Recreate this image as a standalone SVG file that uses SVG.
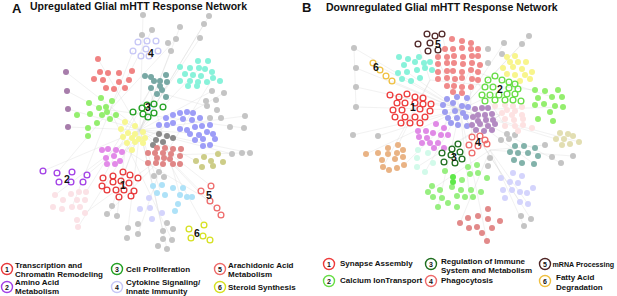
<svg xmlns="http://www.w3.org/2000/svg" width="617" height="296" viewBox="0 0 617 296">
<style>
text{font-family:"Liberation Sans",Arial,sans-serif;font-weight:bold;fill:#111}
.t{font-size:10.5px}
.L{font-size:13px}
.lg{font-size:8px}
.n{font-size:10.5px;text-anchor:middle}
.ln{font-size:7px;text-anchor:middle}
.o circle{fill:none;stroke-width:1.3}
.edges line{stroke:#d4d4d4;stroke-width:0.5;opacity:0.6}
.gr{fill:#c4c4c4}
</style>
<rect width="617" height="296" fill="#fff"/>
<g class="edges">
<line x1="140" y1="130" x2="143" y2="15"/><line x1="140" y1="130" x2="209" y2="16"/><line x1="140" y1="130" x2="180" y2="27"/><line x1="140" y1="130" x2="204" y2="24"/><line x1="140" y1="130" x2="171" y2="51"/><line x1="140" y1="130" x2="98" y2="59"/><line x1="140" y1="130" x2="66" y2="72"/><line x1="140" y1="130" x2="67" y2="91"/><line x1="140" y1="130" x2="68" y2="109"/><line x1="140" y1="130" x2="68" y2="127"/><line x1="140" y1="130" x2="212" y2="91"/><line x1="140" y1="130" x2="245" y2="116"/><line x1="140" y1="130" x2="250" y2="153"/><line x1="140" y1="130" x2="232" y2="154"/><line x1="140" y1="130" x2="43" y2="171"/><line x1="140" y1="130" x2="87" y2="175"/><line x1="140" y1="130" x2="55" y2="195"/><line x1="140" y1="130" x2="78" y2="227"/><line x1="140" y1="130" x2="112" y2="206"/><line x1="140" y1="130" x2="128" y2="228"/><line x1="140" y1="130" x2="163" y2="231"/><line x1="140" y1="130" x2="167" y2="249"/><line x1="140" y1="130" x2="221" y2="215"/><line x1="140" y1="130" x2="211" y2="186"/><line x1="140" y1="130" x2="196" y2="161"/><line x1="140" y1="130" x2="160" y2="85"/><line x1="140" y1="130" x2="200" y2="68"/><line x1="140" y1="130" x2="190" y2="133"/><line x1="140" y1="130" x2="120" y2="185"/><line x1="140" y1="130" x2="160" y2="190"/>
<line x1="165" y1="155" x2="204" y2="225"/><line x1="165" y1="155" x2="217" y2="208"/><line x1="165" y1="155" x2="242" y2="153"/><line x1="165" y1="155" x2="213" y2="78"/><line x1="165" y1="155" x2="138" y2="234"/><line x1="165" y1="155" x2="85" y2="213"/><line x1="165" y1="155" x2="107" y2="214"/><line x1="110" y1="110" x2="152" y2="30"/><line x1="110" y1="110" x2="133" y2="51"/><line x1="110" y1="110" x2="57" y2="173"/><line x1="110" y1="110" x2="244" y2="128"/><line x1="110" y1="110" x2="176" y2="39"/><line x1="110" y1="110" x2="72" y2="207"/><line x1="110" y1="110" x2="172" y2="240"/>
<line x1="150" y1="90" x2="207" y2="106"/><line x1="150" y1="90" x2="103" y2="178"/><line x1="150" y1="90" x2="180" y2="195"/><line x1="150" y1="90" x2="86" y2="192"/><line x1="125" y1="150" x2="200" y2="38"/><line x1="125" y1="150" x2="224" y2="93"/><line x1="125" y1="150" x2="210" y2="201"/><line x1="125" y1="150" x2="117" y2="216"/>
<line x1="460" y1="110" x2="354" y2="48"/><line x1="460" y1="110" x2="356" y2="68"/><line x1="460" y1="110" x2="356" y2="87"/><line x1="460" y1="110" x2="356" y2="107"/><line x1="460" y1="110" x2="427" y2="34"/><line x1="460" y1="110" x2="442" y2="34"/><line x1="460" y1="110" x2="373" y2="63"/><line x1="460" y1="110" x2="392" y2="81"/><line x1="460" y1="110" x2="529" y2="36"/><line x1="460" y1="110" x2="504" y2="43"/><line x1="460" y1="110" x2="520" y2="81"/><line x1="460" y1="110" x2="563" y2="107"/><line x1="460" y1="110" x2="579" y2="142"/><line x1="460" y1="110" x2="561" y2="163"/><line x1="460" y1="110" x2="534" y2="164"/><line x1="460" y1="110" x2="366" y2="154"/><line x1="460" y1="110" x2="404" y2="165"/><line x1="460" y1="110" x2="425" y2="172"/><line x1="460" y1="110" x2="470" y2="200"/><line x1="460" y1="110" x2="520" y2="202"/><line x1="460" y1="110" x2="531" y2="219"/><line x1="460" y1="110" x2="487" y2="241"/><line x1="460" y1="110" x2="438" y2="207"/><line x1="460" y1="110" x2="378" y2="136"/><line x1="460" y1="110" x2="353" y2="135"/><line x1="460" y1="110" x2="522" y2="44"/><line x1="460" y1="110" x2="407" y2="72"/><line x1="460" y1="110" x2="556" y2="139"/>
<line x1="490" y1="150" x2="528" y2="204"/><line x1="490" y1="150" x2="524" y2="226"/><line x1="490" y1="150" x2="460" y2="223"/><line x1="490" y1="150" x2="573" y2="156"/><line x1="490" y1="150" x2="545" y2="145"/><line x1="490" y1="150" x2="428" y2="192"/><line x1="430" y1="80" x2="383" y2="167"/><line x1="430" y1="80" x2="398" y2="145"/><line x1="430" y1="80" x2="535" y2="90"/><line x1="430" y1="80" x2="418" y2="44"/>
<line x1="470" y1="70" x2="505" y2="126"/><line x1="470" y1="70" x2="434" y2="148"/><line x1="470" y1="70" x2="552" y2="97"/><line x1="470" y1="70" x2="472" y2="153"/><line x1="500" y1="115" x2="442" y2="153"/><line x1="500" y1="115" x2="390" y2="95"/><line x1="500" y1="115" x2="417" y2="167"/>
<line x1="354" y1="48" x2="356" y2="107"/>
</g>
<g id="A-title"><text class="L" x="12" y="13">A</text><text class="t" x="30" y="10">Upregulated Glial mHTT Response Network</text></g>
<g id="B-title"><text class="L" x="302" y="12">B</text><text class="t" x="326" y="10.5">Downregulated Glial mHTT Response Network</text></g>
<g id="A-gray" class="gr">
<circle cx="143" cy="15" r="3"/><circle cx="209" cy="16" r="3"/><circle cx="152" cy="30" r="3"/><circle cx="180" cy="27" r="3"/><circle cx="204" cy="24" r="3"/><circle cx="142" cy="35" r="3"/><circle cx="168" cy="43" r="3"/><circle cx="176" cy="39" r="3"/><circle cx="200" cy="38" r="3"/><circle cx="171" cy="51" r="3"/><circle cx="212" cy="91" r="3"/><circle cx="224" cy="93" r="3"/><circle cx="206" cy="101" r="3"/><circle cx="216" cy="100" r="3"/><circle cx="207" cy="106" r="3"/><circle cx="217" cy="110" r="3"/><circle cx="245" cy="116" r="3"/><circle cx="210" cy="118" r="3"/><circle cx="221" cy="118" r="3"/><circle cx="230" cy="127" r="3"/><circle cx="244" cy="128" r="3"/><circle cx="232" cy="154" r="3"/><circle cx="242" cy="153" r="3"/><circle cx="250" cy="153" r="3"/><circle cx="159" cy="172" r="3"/><circle cx="154" cy="176" r="3"/><circle cx="164" cy="177" r="3"/><circle cx="112" cy="206" r="3"/><circle cx="107" cy="214" r="3"/><circle cx="117" cy="216" r="3"/><circle cx="128" cy="228" r="3"/><circle cx="138" cy="234" r="3"/><circle cx="127" cy="238" r="3"/><circle cx="163" cy="231" r="3"/><circle cx="173" cy="229" r="3"/><circle cx="172" cy="240" r="3"/><circle cx="163" cy="239" r="3"/><circle cx="158" cy="246" r="3"/><circle cx="167" cy="249" r="3"/><circle cx="138" cy="224" r="3"/><circle cx="167" cy="223" r="3"/>
</g>
<g id="A-cluster4" class="o" stroke="#c6c6f6">
<circle cx="138" cy="42" r="2.9"/><circle cx="147" cy="41" r="2.9"/><circle cx="156" cy="41" r="2.9"/><circle cx="133" cy="51" r="2.9"/><circle cx="146" cy="49" r="2.9"/><circle cx="158" cy="51" r="2.9"/><circle cx="141" cy="56" r="2.9"/><circle cx="149" cy="56" r="2.9"/>
</g>
<g id="A-salmon" fill="#f08383">
<circle cx="98" cy="59" r="3"/><circle cx="100" cy="72" r="3"/><circle cx="108" cy="73" r="3"/><circle cx="119" cy="73" r="3"/><circle cx="132" cy="71" r="3"/><circle cx="94" cy="79" r="3"/><circle cx="103" cy="80" r="3"/><circle cx="119" cy="82" r="3"/><circle cx="129" cy="80" r="3"/><circle cx="106" cy="88" r="3"/><circle cx="114" cy="89" r="3"/><circle cx="125" cy="88" r="3"/>
</g>
<g id="A-purple" fill="#a77dab">
<circle cx="66" cy="72" r="3"/><circle cx="67" cy="91" r="3"/><circle cx="68" cy="109" r="3"/><circle cx="68" cy="127" r="3"/>
</g>
<g id="A-cadet" fill="#78a8a4">
<circle cx="145" cy="76" r="3"/><circle cx="151" cy="77" r="3"/><circle cx="166" cy="75" r="3"/><circle cx="154" cy="81" r="3"/><circle cx="160" cy="81" r="3"/><circle cx="167" cy="82" r="3"/><circle cx="160" cy="86" r="3"/><circle cx="151" cy="88" r="3"/><circle cx="162" cy="90" r="3"/><circle cx="157" cy="94" r="3"/><circle cx="166" cy="97" r="3"/>
</g>
<g id="A-aqua" fill="#88f2da">
<circle cx="180" cy="67" r="3"/><circle cx="190" cy="68" r="3"/><circle cx="198" cy="61" r="3"/><circle cx="208" cy="61" r="3"/><circle cx="199" cy="68" r="3"/><circle cx="205" cy="69" r="3"/><circle cx="212" cy="72" r="3"/><circle cx="185" cy="74" r="3"/><circle cx="193" cy="75" r="3"/><circle cx="201" cy="76" r="3"/><circle cx="213" cy="78" r="3"/><circle cx="220" cy="81" r="3"/><circle cx="180" cy="81" r="3"/><circle cx="190" cy="81" r="3"/><circle cx="198" cy="82" r="3"/><circle cx="207" cy="82" r="3"/><circle cx="188" cy="86" r="3"/><circle cx="197" cy="86" r="3"/>
</g>
<g id="A-lightgreen" fill="#94ee6e">
<circle cx="101" cy="98" r="3"/><circle cx="112" cy="101" r="3"/><circle cx="89" cy="103" r="3"/><circle cx="99" cy="108" r="3"/><circle cx="106" cy="107" r="3"/><circle cx="107" cy="112" r="3"/><circle cx="116" cy="115" r="3"/><circle cx="77" cy="115" r="3"/><circle cx="90" cy="114" r="3"/><circle cx="102" cy="115" r="3"/><circle cx="110" cy="119" r="3"/><circle cx="97" cy="123" r="3"/><circle cx="88" cy="128" r="3"/><circle cx="88" cy="136" r="3"/>
</g>
<g id="A-cluster3" class="o" stroke="#22a022">
<circle cx="133" cy="112" r="2.9"/><circle cx="142" cy="108" r="2.9"/><circle cx="147" cy="105" r="2.9"/><circle cx="154" cy="104" r="2.9"/><circle cx="163" cy="107" r="2.9"/><circle cx="143" cy="114" r="2.9"/><circle cx="154" cy="113" r="2.9"/><circle cx="148" cy="117" r="2.9"/>
</g>
<g id="A-periwinkle" fill="#9d9df7">
<circle cx="166" cy="118" r="3"/><circle cx="173" cy="115" r="3"/><circle cx="180" cy="113" r="3"/><circle cx="187" cy="112" r="3"/><circle cx="193" cy="113" r="3"/><circle cx="173" cy="123" r="3"/><circle cx="183" cy="119" r="3"/><circle cx="192" cy="120" r="3"/><circle cx="200" cy="118" r="3"/><circle cx="159" cy="125" r="3"/><circle cx="167" cy="125" r="3"/><circle cx="180" cy="129" r="3"/><circle cx="187" cy="130" r="3"/><circle cx="195" cy="127" r="3"/><circle cx="202" cy="126" r="3"/><circle cx="210" cy="125" r="3"/><circle cx="190" cy="134" r="3"/><circle cx="199" cy="135" r="3"/><circle cx="207" cy="132" r="3"/><circle cx="213" cy="134" r="3"/><circle cx="195" cy="140" r="3"/><circle cx="203" cy="139" r="3"/><circle cx="215" cy="139" r="3"/><circle cx="203" cy="146" r="3"/><circle cx="210" cy="145" r="3"/>
</g>
<g id="A-yellow" fill="#f7f791">
<circle cx="125" cy="122" r="3"/><circle cx="135" cy="126" r="3"/><circle cx="121" cy="129" r="3"/><circle cx="128" cy="133" r="3"/><circle cx="135" cy="134" r="3"/><circle cx="143" cy="132" r="3"/><circle cx="123" cy="137" r="3"/><circle cx="132" cy="138" r="3"/><circle cx="139" cy="139" r="3"/><circle cx="145" cy="138" r="3"/><circle cx="127" cy="143" r="3"/><circle cx="135" cy="142" r="3"/><circle cx="143" cy="143" r="3"/><circle cx="132" cy="150" r="3"/>
</g>
<g id="A-darkgray" fill="#8a8a8a">
<circle cx="159" cy="134" r="3"/><circle cx="167" cy="136" r="3"/><circle cx="173" cy="138" r="3"/><circle cx="156" cy="140" r="3"/><circle cx="163" cy="142" r="3"/><circle cx="153" cy="145" r="3"/>
</g>
<g id="A-rosy" fill="#e08686">
<circle cx="157" cy="148" r="3"/><circle cx="165" cy="148" r="3"/><circle cx="173" cy="149" r="3"/><circle cx="181" cy="149" r="3"/><circle cx="148" cy="153" r="3"/><circle cx="155" cy="153" r="3"/><circle cx="163" cy="153" r="3"/><circle cx="171" cy="154" r="3"/><circle cx="180" cy="156" r="3"/><circle cx="157" cy="158" r="3"/><circle cx="164" cy="158" r="3"/><circle cx="170" cy="159" r="3"/><circle cx="148" cy="163" r="3"/><circle cx="156" cy="163" r="3"/><circle cx="163" cy="164" r="3"/><circle cx="173" cy="164" r="3"/><circle cx="180" cy="164" r="3"/>
</g>
<g id="A-orchid" fill="#e28ae8">
<circle cx="102" cy="150" r="3"/><circle cx="108" cy="149" r="3"/><circle cx="116" cy="150" r="3"/><circle cx="122" cy="152" r="3"/><circle cx="106" cy="158" r="3"/><circle cx="114" cy="156" r="3"/><circle cx="120" cy="161" r="3"/><circle cx="107" cy="164" r="3"/><circle cx="115" cy="164" r="3"/>
</g>
<g id="A-khaki" fill="#cdcd88">
<circle cx="196" cy="161" r="3"/><circle cx="204" cy="157" r="3"/><circle cx="211" cy="161" r="3"/><circle cx="218" cy="154" r="3"/><circle cx="223" cy="162" r="3"/><circle cx="202" cy="167" r="3"/><circle cx="213" cy="166" r="3"/>
</g>
<g id="A-cluster2" class="o" stroke="#a23fe6">
<circle cx="43" cy="171" r="2.9"/><circle cx="57" cy="173" r="2.9"/><circle cx="72" cy="172" r="2.9"/><circle cx="87" cy="175" r="2.9"/><circle cx="59" cy="182" r="2.9"/><circle cx="71" cy="182" r="2.9"/><circle cx="83" cy="182" r="2.9"/>
</g>
<g id="A-cluster1" class="o" stroke="#e8383a">
<circle cx="103" cy="178" r="2.9"/><circle cx="113" cy="176" r="2.9"/><circle cx="123" cy="172" r="2.9"/><circle cx="130" cy="175" r="2.9"/><circle cx="138" cy="178" r="2.9"/><circle cx="113" cy="182" r="2.9"/><circle cx="121" cy="181" r="2.9"/><circle cx="129" cy="183" r="2.9"/><circle cx="102" cy="186" r="2.9"/><circle cx="107" cy="190" r="2.9"/><circle cx="116" cy="190" r="2.9"/><circle cx="124" cy="190" r="2.9"/><circle cx="134" cy="191" r="2.9"/><circle cx="119" cy="197" r="2.9"/><circle cx="131" cy="196" r="2.9"/>
</g>
<g id="A-lightblue" fill="#aee2f8">
<circle cx="153" cy="186" r="3"/><circle cx="162" cy="185" r="3"/><circle cx="173" cy="188" r="3"/><circle cx="183" cy="188" r="3"/><circle cx="157" cy="193" r="3"/><circle cx="165" cy="195" r="3"/><circle cx="180" cy="195" r="3"/><circle cx="187" cy="197" r="3"/><circle cx="192" cy="197" r="3"/><circle cx="178" cy="204" r="3"/><circle cx="175" cy="211" r="3"/>
</g>
<g id="A-lavender" fill="#d4d4fc">
<circle cx="149" cy="198" r="3"/><circle cx="140" cy="209" r="3"/><circle cx="150" cy="208" r="3"/><circle cx="152" cy="219" r="3"/><circle cx="162" cy="213" r="3"/>
</g>
<g id="A-cluster5" class="o" stroke="#ee6a6a">
<circle cx="211" cy="186" r="2.9"/><circle cx="201" cy="191" r="2.9"/><circle cx="210" cy="201" r="2.9"/><circle cx="217" cy="208" r="2.9"/><circle cx="221" cy="215" r="2.9"/>
</g>
<g id="A-pink" fill="#fbe2e6">
<circle cx="55" cy="195" r="3"/><circle cx="63" cy="200" r="3"/><circle cx="71" cy="194" r="3"/><circle cx="79" cy="192" r="3"/><circle cx="86" cy="192" r="3"/><circle cx="77" cy="200" r="3"/><circle cx="85" cy="200" r="3"/><circle cx="53" cy="207" r="3"/><circle cx="62" cy="209" r="3"/><circle cx="72" cy="207" r="3"/><circle cx="80" cy="207" r="3"/><circle cx="85" cy="213" r="3"/><circle cx="77" cy="220" r="3"/><circle cx="78" cy="227" r="3"/>
</g>
<g id="A-cluster6" class="o" stroke="#d6e020">
<circle cx="189" cy="229" r="2.9"/><circle cx="204" cy="225" r="2.9"/><circle cx="191" cy="238" r="2.9"/><circle cx="203" cy="236" r="2.9"/><circle cx="210" cy="240" r="2.9"/>
</g>
<g id="A-labels">
<text class="n" x="151" y="57">4</text><text class="n" x="148" y="111">3</text><text class="n" x="67" y="183">2</text><text class="n" x="123" y="189">1</text><text class="n" x="209" y="199">5</text><text class="n" x="197" y="237">6</text>
</g>
<g id="B-gray" class="gr">
<circle cx="354" cy="48" r="3"/><circle cx="356" cy="68" r="3"/><circle cx="356" cy="87" r="3"/><circle cx="356" cy="107" r="3"/><circle cx="353" cy="135" r="3"/><circle cx="378" cy="136" r="3"/><circle cx="504" cy="43" r="3"/><circle cx="522" cy="44" r="3"/><circle cx="529" cy="36" r="3"/><circle cx="488" cy="49" r="3"/><circle cx="502" cy="54" r="3"/><circle cx="488" cy="63" r="3"/><circle cx="507" cy="134" r="3"/><circle cx="515" cy="135" r="3"/><circle cx="501" cy="140" r="3"/><circle cx="509" cy="139" r="3"/><circle cx="545" cy="145" r="3"/><circle cx="552" cy="157" r="3"/><circle cx="561" cy="163" r="3"/><circle cx="573" cy="156" r="3"/><circle cx="490" cy="158" r="3"/><circle cx="488" cy="166" r="3"/><circle cx="521" cy="216" r="3"/><circle cx="531" cy="219" r="3"/><circle cx="524" cy="226" r="3"/>
</g>
<g id="B-cluster5" class="o" stroke="#4e2424">
<circle cx="427" cy="34" r="2.9"/><circle cx="435" cy="36" r="2.9"/><circle cx="442" cy="34" r="2.9"/><circle cx="418" cy="44" r="2.9"/><circle cx="430" cy="43" r="2.9"/><circle cx="428" cy="51" r="2.9"/><circle cx="438" cy="50" r="2.9"/>
</g>
<g id="B-cluster6" class="o" stroke="#f0c040">
<circle cx="373" cy="63" r="2.9"/><circle cx="380" cy="70" r="2.9"/><circle cx="386" cy="76" r="2.9"/><circle cx="392" cy="81" r="2.9"/>
</g>
<g id="B-aqua" fill="#88f2da">
<circle cx="399" cy="57" r="3"/><circle cx="408" cy="59" r="3"/><circle cx="419" cy="57" r="3"/><circle cx="404" cy="65" r="3"/><circle cx="415" cy="62" r="3"/><circle cx="424" cy="63" r="3"/><circle cx="430" cy="62" r="3"/><circle cx="398" cy="73" r="3"/><circle cx="407" cy="72" r="3"/><circle cx="417" cy="70" r="3"/><circle cx="425" cy="68" r="3"/><circle cx="432" cy="70" r="3"/><circle cx="402" cy="79" r="3"/><circle cx="411" cy="81" r="3"/><circle cx="420" cy="78" r="3"/>
</g>
<g id="B-salmon" fill="#f08a8a">
<circle cx="452" cy="39" r="3"/><circle cx="462" cy="41" r="3"/><circle cx="471" cy="43" r="3"/><circle cx="445" cy="49" r="3"/><circle cx="453" cy="49" r="3"/><circle cx="462" cy="48" r="3"/><circle cx="471" cy="49" r="3"/><circle cx="478" cy="49" r="3"/><circle cx="438" cy="57" r="3"/><circle cx="447" cy="57" r="3"/><circle cx="454" cy="56" r="3"/><circle cx="463" cy="57" r="3"/><circle cx="472" cy="56" r="3"/><circle cx="478" cy="56" r="3"/><circle cx="438" cy="64" r="3"/><circle cx="447" cy="63" r="3"/><circle cx="454" cy="63" r="3"/><circle cx="463" cy="64" r="3"/><circle cx="472" cy="63" r="3"/><circle cx="480" cy="65" r="3"/><circle cx="438" cy="72" r="3"/><circle cx="447" cy="71" r="3"/><circle cx="453" cy="71" r="3"/><circle cx="462" cy="72" r="3"/><circle cx="471" cy="70" r="3"/><circle cx="478" cy="72" r="3"/><circle cx="438" cy="79" r="3"/><circle cx="447" cy="78" r="3"/><circle cx="455" cy="79" r="3"/><circle cx="462" cy="78" r="3"/><circle cx="472" cy="79" r="3"/><circle cx="478" cy="80" r="3"/><circle cx="447" cy="86" r="3"/><circle cx="454" cy="86" r="3"/><circle cx="462" cy="87" r="3"/><circle cx="471" cy="87" r="3"/><circle cx="453" cy="92" r="3"/><circle cx="462" cy="93" r="3"/>
</g>
<g id="B-yellow" fill="#f8f58c">
<circle cx="507" cy="57" r="3"/><circle cx="515" cy="56" r="3"/><circle cx="510" cy="62" r="3"/><circle cx="518" cy="62" r="3"/><circle cx="526" cy="62" r="3"/><circle cx="503" cy="68" r="3"/><circle cx="513" cy="67" r="3"/><circle cx="522" cy="69" r="3"/><circle cx="532" cy="72" r="3"/><circle cx="507" cy="74" r="3"/><circle cx="515" cy="75" r="3"/><circle cx="525" cy="75" r="3"/><circle cx="530" cy="79" r="3"/><circle cx="520" cy="81" r="3"/>
</g>
<g id="B-pink" fill="#fde2e2">
<circle cx="495" cy="106" r="3"/><circle cx="505" cy="105" r="3"/><circle cx="513" cy="106" r="3"/><circle cx="522" cy="107" r="3"/><circle cx="502" cy="113" r="3"/><circle cx="512" cy="115" r="3"/><circle cx="522" cy="115" r="3"/><circle cx="507" cy="110" r="3"/><circle cx="515" cy="111" r="3"/><circle cx="505" cy="119" r="3"/><circle cx="514" cy="120" r="3"/><circle cx="523" cy="119" r="3"/><circle cx="505" cy="126" r="3"/><circle cx="515" cy="126" r="3"/><circle cx="523" cy="125" r="3"/><circle cx="532" cy="128" r="3"/><circle cx="518" cy="131" r="3"/>
</g>
<g id="B-cluster2" class="o" stroke="#66dd44">
<circle cx="495" cy="76" r="2.9"/><circle cx="502" cy="80" r="2.9"/><circle cx="488" cy="80" r="2.9"/><circle cx="509" cy="82" r="2.9"/><circle cx="515" cy="84" r="2.9"/><circle cx="485" cy="87" r="2.9"/><circle cx="493" cy="87" r="2.9"/><circle cx="509" cy="88" r="2.9"/><circle cx="518" cy="89" r="2.9"/><circle cx="482" cy="95" r="2.9"/><circle cx="490" cy="95" r="2.9"/><circle cx="499" cy="95" r="2.9"/><circle cx="507" cy="94" r="2.9"/><circle cx="515" cy="94" r="2.9"/><circle cx="485" cy="101" r="2.9"/><circle cx="495" cy="100" r="2.9"/><circle cx="505" cy="100" r="2.9"/><circle cx="513" cy="100" r="2.9"/><circle cx="521" cy="101" r="2.9"/>
</g>
<g id="B-lightgreen-r" fill="#94ee6e">
<circle cx="535" cy="90" r="3"/><circle cx="545" cy="91" r="3"/><circle cx="558" cy="90" r="3"/><circle cx="538" cy="98" r="3"/><circle cx="552" cy="97" r="3"/><circle cx="562" cy="97" r="3"/><circle cx="535" cy="105" r="3"/><circle cx="544" cy="104" r="3"/><circle cx="555" cy="106" r="3"/><circle cx="563" cy="107" r="3"/><circle cx="550" cy="112" r="3"/><circle cx="538" cy="119" r="3"/><circle cx="553" cy="121" r="3"/>
</g>
<g id="B-cluster1" class="o" stroke="#ee3a3a">
<circle cx="390" cy="95" r="2.9"/><circle cx="399" cy="97" r="2.9"/><circle cx="407" cy="94" r="2.9"/><circle cx="415" cy="97" r="2.9"/><circle cx="423" cy="98" r="2.9"/><circle cx="397" cy="103" r="2.9"/><circle cx="405" cy="103" r="2.9"/><circle cx="415" cy="103" r="2.9"/><circle cx="423" cy="104" r="2.9"/><circle cx="431" cy="104" r="2.9"/><circle cx="393" cy="110" r="2.9"/><circle cx="402" cy="110" r="2.9"/><circle cx="420" cy="109" r="2.9"/><circle cx="430" cy="111" r="2.9"/><circle cx="395" cy="117" r="2.9"/><circle cx="405" cy="117" r="2.9"/><circle cx="415" cy="117" r="2.9"/><circle cx="425" cy="117" r="2.9"/><circle cx="401" cy="123" r="2.9"/><circle cx="410" cy="123" r="2.9"/><circle cx="420" cy="123" r="2.9"/>
</g>
<g id="B-blue" fill="#9d9df0">
<circle cx="447" cy="99" r="3"/><circle cx="457" cy="97" r="3"/><circle cx="467" cy="98" r="3"/><circle cx="443" cy="105" r="3"/><circle cx="453" cy="103" r="3"/><circle cx="462" cy="106" r="3"/><circle cx="468" cy="107" r="3"/><circle cx="445" cy="112" r="3"/><circle cx="455" cy="111" r="3"/><circle cx="463" cy="113" r="3"/><circle cx="448" cy="118" r="3"/><circle cx="457" cy="118" r="3"/><circle cx="466" cy="117" r="3"/><circle cx="451" cy="123" r="3"/><circle cx="458" cy="125" r="3"/><circle cx="467" cy="126" r="3"/>
</g>
<g id="B-mauve" fill="#b38ac2">
<circle cx="475" cy="109" r="3"/><circle cx="482" cy="108" r="3"/><circle cx="488" cy="108" r="3"/><circle cx="478" cy="115" r="3"/><circle cx="485" cy="115" r="3"/><circle cx="473" cy="117" r="3"/><circle cx="492" cy="114" r="3"/><circle cx="478" cy="121" r="3"/><circle cx="486" cy="120" r="3"/><circle cx="493" cy="120" r="3"/><circle cx="472" cy="125" r="3"/><circle cx="480" cy="124" r="3"/><circle cx="488" cy="126" r="3"/><circle cx="495" cy="124" r="3"/><circle cx="476" cy="130" r="3"/><circle cx="484" cy="131" r="3"/><circle cx="492" cy="130" r="3"/>
</g>
<g id="B-khaki" fill="#e2deb2">
<circle cx="560" cy="133" r="3"/><circle cx="568" cy="134" r="3"/><circle cx="573" cy="136" r="3"/><circle cx="556" cy="139" r="3"/><circle cx="564" cy="139" r="3"/><circle cx="579" cy="142" r="3"/><circle cx="562" cy="145" r="3"/><circle cx="570" cy="144" r="3"/>
</g>
<g id="B-cadet" fill="#82b2aa">
<circle cx="515" cy="146" r="3"/><circle cx="524" cy="146" r="3"/><circle cx="535" cy="148" r="3"/><circle cx="510" cy="152" r="3"/><circle cx="518" cy="153" r="3"/><circle cx="528" cy="153" r="3"/><circle cx="538" cy="156" r="3"/><circle cx="514" cy="160" r="3"/><circle cx="522" cy="163" r="3"/><circle cx="534" cy="164" r="3"/>
</g>
<g id="B-orchid" fill="#e08ae6">
<circle cx="436" cy="124" r="3"/><circle cx="444" cy="128" r="3"/><circle cx="418" cy="131" r="3"/><circle cx="426" cy="131" r="3"/><circle cx="433" cy="133" r="3"/><circle cx="441" cy="135" r="3"/><circle cx="448" cy="135" r="3"/><circle cx="419" cy="137" r="3"/><circle cx="427" cy="138" r="3"/><circle cx="422" cy="143" r="3"/><circle cx="430" cy="143" r="3"/><circle cx="438" cy="143" r="3"/><circle cx="434" cy="148" r="3"/><circle cx="444" cy="148" r="3"/>
</g>
<g id="B-cluster4" class="o" stroke="#ee6a6a">
<circle cx="472" cy="137" r="2.9"/><circle cx="480" cy="136" r="2.9"/><circle cx="485" cy="140" r="2.9"/><circle cx="469" cy="145" r="2.9"/><circle cx="478" cy="146" r="2.9"/><circle cx="487" cy="144" r="2.9"/><circle cx="472" cy="153" r="2.9"/>
</g>
<g id="B-cluster3" class="o" stroke="#1e6e1e">
<circle cx="458" cy="144" r="2.9"/><circle cx="452" cy="149" r="2.9"/><circle cx="442" cy="153" r="2.9"/><circle cx="451" cy="155" r="2.9"/><circle cx="460" cy="152" r="2.9"/><circle cx="444" cy="162" r="2.9"/><circle cx="455" cy="163" r="2.9"/><circle cx="462" cy="159" r="2.9"/>
</g>
<g id="B-mint" fill="#d2faea">
<circle cx="418" cy="150" r="3"/><circle cx="428" cy="153" r="3"/><circle cx="417" cy="158" r="3"/><circle cx="433" cy="163" r="3"/><circle cx="417" cy="167" r="3"/><circle cx="425" cy="172" r="3"/>
</g>
<g id="B-tan" fill="#e9b384">
<circle cx="388" cy="148" r="3"/><circle cx="398" cy="145" r="3"/><circle cx="366" cy="154" r="3"/><circle cx="378" cy="153" r="3"/><circle cx="388" cy="154" r="3"/><circle cx="397" cy="153" r="3"/><circle cx="403" cy="150" r="3"/><circle cx="382" cy="160" r="3"/><circle cx="395" cy="159" r="3"/><circle cx="403" cy="157" r="3"/><circle cx="383" cy="167" r="3"/><circle cx="389" cy="170" r="3"/><circle cx="397" cy="168" r="3"/><circle cx="404" cy="165" r="3"/>
</g>
<g id="B-lightgreen" fill="#97ef80">
<circle cx="477" cy="165" r="3"/><circle cx="468" cy="167" r="3"/><circle cx="478" cy="173" r="3"/><circle cx="470" cy="174" r="3"/><circle cx="487" cy="178" r="3"/><circle cx="445" cy="171" r="3"/><circle cx="462" cy="180" r="3"/><circle cx="452" cy="187" r="3"/><circle cx="461" cy="190" r="3"/><circle cx="471" cy="190" r="3"/><circle cx="481" cy="192" r="3"/><circle cx="432" cy="186" r="3"/><circle cx="440" cy="190" r="3"/><circle cx="457" cy="196" r="3"/><circle cx="465" cy="197" r="3"/><circle cx="473" cy="197" r="3"/><circle cx="428" cy="192" r="3"/><circle cx="433" cy="197" r="3"/><circle cx="442" cy="198" r="3"/><circle cx="448" cy="203" r="3"/><circle cx="457" cy="207" r="3"/><circle cx="438" cy="207" r="3"/>
<circle cx="453" cy="177" r="3" fill="#5fe84a"/><circle cx="453" cy="182" r="3" fill="#5fe84a"/>
</g>
<g id="B-lavender" fill="#d4d4fc">
<circle cx="513" cy="173" r="3"/><circle cx="522" cy="176" r="3"/><circle cx="501" cy="178" r="3"/><circle cx="510" cy="182" r="3"/><circle cx="518" cy="183" r="3"/><circle cx="503" cy="190" r="3"/><circle cx="512" cy="190" r="3"/><circle cx="520" cy="192" r="3"/><circle cx="527" cy="193" r="3"/><circle cx="533" cy="188" r="3"/><circle cx="505" cy="198" r="3"/><circle cx="520" cy="202" r="3"/><circle cx="528" cy="204" r="3"/>
</g>
<g id="B-rosy" fill="#e28a8a">
<circle cx="488" cy="209" r="3"/><circle cx="468" cy="218" r="3"/><circle cx="478" cy="216" r="3"/><circle cx="488" cy="219" r="3"/><circle cx="500" cy="221" r="3"/><circle cx="460" cy="223" r="3"/><circle cx="469" cy="228" r="3"/><circle cx="477" cy="227" r="3"/><circle cx="492" cy="228" r="3"/><circle cx="482" cy="233" r="3"/><circle cx="487" cy="241" r="3"/>
</g>
<g id="B-labels">
<text class="n" x="438" y="48">5</text><text class="n" x="376" y="71">6</text><text class="n" x="413" y="111">1</text><text class="n" x="500" y="93">2</text><text class="n" x="478" y="146">4</text><text class="n" x="454" y="161">3</text>
</g>
<g id="legendA">
<g id="legA1"><circle cx="7" cy="269" r="5.5" fill="#fff" stroke="#e8383a" stroke-width="1.4"/><text class="ln" x="7" y="271.5">1</text><text class="lg" x="15" y="267.5">Transcription and</text><text class="lg" x="15" y="276.5">Chromatin Remodeling</text></g>
<g id="legA2"><circle cx="7" cy="287" r="5.5" fill="#fff" stroke="#a23fe6" stroke-width="1.4"/><text class="ln" x="7" y="289.5">2</text><text class="lg" x="15" y="284.5">Amino Acid</text><text class="lg" x="15" y="293.5">Metabolism</text></g>
<g id="legA3"><circle cx="117" cy="269" r="5.5" fill="#fff" stroke="#22a022" stroke-width="1.4"/><text class="ln" x="117" y="271.5">3</text><text class="lg" x="126" y="272">Cell Proliferation</text></g>
<g id="legA4"><circle cx="117" cy="287" r="5.5" fill="#fff" stroke="#c6c6f6" stroke-width="1.4"/><text class="ln" x="117" y="289.5">4</text><text class="lg" x="126" y="284.5">Cytokine Signaling/</text><text class="lg" x="126" y="293.5">Innate Immunity</text></g>
<g id="legA5"><circle cx="220" cy="269" r="5.5" fill="#fff" stroke="#ee6a6a" stroke-width="1.4"/><text class="ln" x="220" y="271.5">5</text><text class="lg" x="228" y="267.5">Arachidonic Acid</text><text class="lg" x="228" y="277">Metabolism</text></g>
<g id="legA6"><circle cx="220" cy="287" r="5.5" fill="#fff" stroke="#d6e020" stroke-width="1.4"/><text class="ln" x="220" y="289.5">6</text><text class="lg" x="228" y="289.5">Steroid Synthesis</text></g>
</g>
<g id="legendB">
<g id="legB1"><circle cx="329" cy="264" r="5.5" fill="#fff" stroke="#ee3a3a" stroke-width="1.4"/><text class="ln" x="329" y="266.5">1</text><text class="lg" x="340" y="266">Synapse Assembly</text></g>
<g id="legB2"><circle cx="329" cy="281" r="5.5" fill="#fff" stroke="#66dd44" stroke-width="1.4"/><text class="ln" x="329" y="283.5">2</text><text class="lg" x="340" y="283">Calcium IonTransport</text></g>
<g id="legB3"><circle cx="431" cy="264" r="5.5" fill="#fff" stroke="#1e6e1e" stroke-width="1.4"/><text class="ln" x="431" y="266.5">3</text><text class="lg" x="441" y="263.5">Regulation of Immune</text><text class="lg" x="441" y="273">System and Metabolism</text></g>
<g id="legB4"><circle cx="431" cy="281" r="5.5" fill="#fff" stroke="#ee6a6a" stroke-width="1.4"/><text class="ln" x="431" y="283.5">4</text><text class="lg" x="441" y="283">Phagocytosis</text></g>
<g id="legB5"><circle cx="545" cy="264" r="5.5" fill="#fff" stroke="#4e2424" stroke-width="1.4"/><text class="ln" x="545" y="266.5">5</text><text class="lg" x="552.5" y="266.5" style="font-size:7.1px">mRNA Processing</text></g>
<g id="legB6"><circle cx="545" cy="281" r="5.5" fill="#fff" stroke="#f0c040" stroke-width="1.4"/><text class="ln" x="545" y="283.5">6</text><text class="lg" x="556" y="279.5">Fatty Acid</text><text class="lg" x="556" y="289.5">Degradation</text></g>
</g>
</svg>
